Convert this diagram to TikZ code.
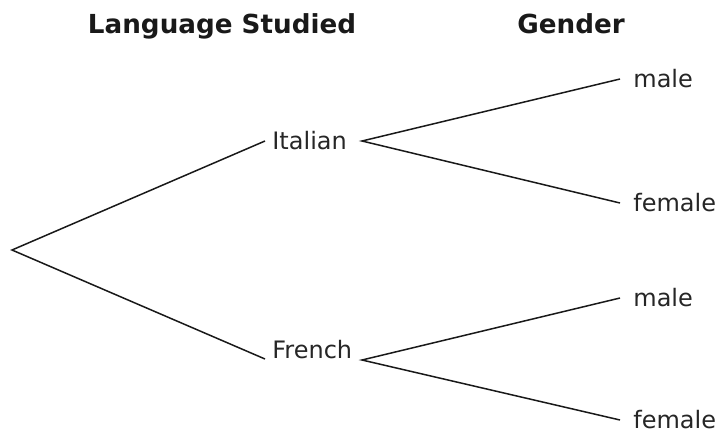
\documentclass[tikz,border=0pt]{standalone}
\usepackage{fontspec}
\setmainfont{DejaVu Sans}
\begin{document}
\begin{tikzpicture}[x=0.5pt,y=-0.5pt,
  branch/.style={line width=0.75pt, draw=black!90},
  lbl/.style={font=\fontsize{12}{14}\selectfont, text=black!85, inner ysep=0pt},
  choice/.style={lbl, inner xsep=3.5pt},
  leaf/.style={lbl, inner xsep=6.5pt, anchor=west},
  header/.style={font=\fontsize{13.1}{15}\selectfont\bfseries, text=black!90, inner sep=0pt, anchor=base}]
  \useasboundingbox (0,0) rectangle (717,434);

  % column headings
  \node[header] (hlang) at (222,33) {Language Studied};
  \node[header] (hgen) at (571,33) {Gender};

  % first stage
  \coordinate (root) at (12,250);
  \node[choice, anchor=west] (ital) at (265,141) {Italian};
  \node[choice, anchor=south west] (fren) at (265,359) {French};
  \coordinate (itfork) at (362,141);
  \coordinate (frfork) at (362,360);

  % second stage
  \node[leaf] (m1) at (620,79) {male};
  \node[leaf] (f1) at (620,203) {female};
  \node[leaf] (m2) at (620,298) {male};
  \node[leaf] (f2) at (620,420) {female};

  \draw[branch] (ital.west) -- (root) -- (fren.south west);
  \draw[branch] (m1.west) -- (itfork) -- (f1.west);
  \draw[branch] (m2.west) -- (frfork) -- (f2.west);
\end{tikzpicture}
\end{document}
